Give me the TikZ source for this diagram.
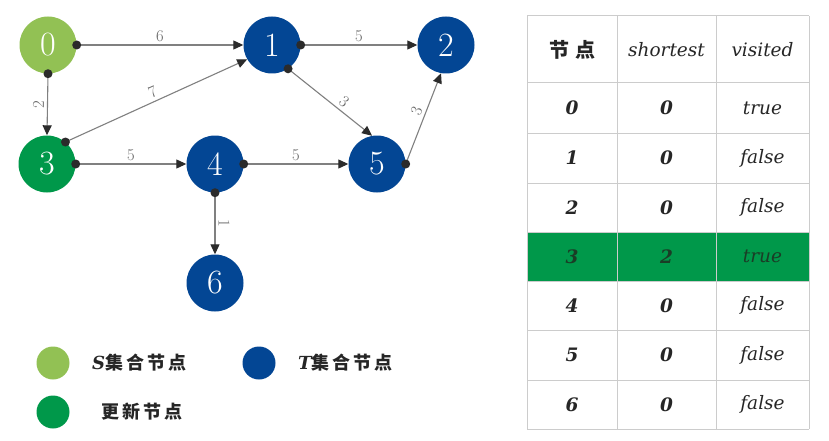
\documentclass[tikz,border=0pt]{standalone}
\usepackage{fontspec}
\newfontfamily\cjk{Noto Sans CJK SC}
\newfontfamily\tabf{DejaVu Serif}
\usetikzlibrary{arrows.meta}
\definecolor{sgreen}{HTML}{92C154}
\definecolor{ugreen}{HTML}{00984A}
\definecolor{tblue}{HTML}{034694}
\definecolor{edgec}{HTML}{808080}
\definecolor{dotc}{HTML}{2B2B2B}
\definecolor{gridc}{HTML}{CCCCCC}
\definecolor{txtc}{HTML}{262626}
\definecolor{gtxt}{HTML}{1A3D26}
\begin{document}
\begin{tikzpicture}[x=1pt,y=-1pt,
  vtx/.style={circle,minimum size=57pt,inner sep=0pt,text=white,font=\fontsize{34}{34}\selectfont},
  edge/.style={draw=edgec,line width=1.1pt,-{Triangle[length=10pt,width=9pt,color=dotc]}},
  wlab/.style={font=\fontsize{16.5}{16.5}\selectfont,text=black!60,sloped,above,inner sep=3pt},
  legdot/.style={circle,minimum size=33pt,inner sep=0pt},
  legtxt/.style={anchor=west,text=txtc,inner sep=0pt,font=\cjk\bfseries\fontsize{18}{18}\selectfont},
  cell/.style={text=txtc,inner sep=0pt,font=\tabf\itshape\fontsize{18.5}{18.5}\selectfont},
  cellb/.style={text=txtc,inner sep=0pt,font=\tabf\bfseries\itshape\fontsize{18.5}{18.5}\selectfont},
  grid/.style={draw=gridc,line width=1pt}
  ]
\useasboundingbox[fill=white] (0,0) rectangle (829,441);
% graph nodes
\node[vtx,fill=sgreen] (n0) at (48,45) {0};
\node[vtx,fill=tblue] (n1) at (272,45) {1};
\node[vtx,fill=tblue] (n2) at (446,45) {2};
\node[vtx,fill=ugreen] (n3) at (47,164) {3};
\node[vtx,fill=tblue] (n4) at (215,164) {4};
\node[vtx,fill=tblue] (n5) at (377,164) {5};
\node[vtx,fill=tblue] (n6) at (215,283) {6};
% edges
\draw[edge] (n0.east) -- node[wlab]{6} (n1.west);
\draw[edge] (n0.south) -- node[wlab]{2} (n3.north);
\draw[edge] (n1.east) -- node[wlab]{5} (n2.west);
\draw[edge] (n3.50) -- node[wlab]{7} (n1.210);
\draw[edge] (n1.-56) -- node[wlab,pos=0.6]{3} (n5.100);
\draw[edge] (n5.east) -- node[wlab,pos=0.55]{3} (n2.-100);
\draw[edge] (n3.east) -- node[wlab]{5} (n4.west);
\draw[edge] (n4.east) -- node[wlab]{5} (n5.west);
\draw[edge] (n4.south) -- node[wlab]{1} (n6.north);
\foreach \a in {n0.east,n0.south,n1.east,n3.50,n1.-56,n5.east,n3.east,n4.east,n4.south}
  \fill[dotc] (\a) circle (4.5pt);
% legend
\node[legdot,fill=sgreen] (ls) at (53,363) {};
\node[legtxt] (lst) at (92,363) {{\tabf\bfseries\itshape S}集\,合\,节\,点};
\node[legdot,fill=tblue] (lt) at (259,363) {};
\node[legtxt] (ltt) at (298,363) {{\tabf\bfseries\itshape T}集\,合\,节\,点};
\node[legdot,fill=ugreen] (lu) at (53,412) {};
\node[legtxt] (lut) at (101,412) {更\,新\,节\,点};
% table
\fill[ugreen] (527,232) rectangle (809,281);
\foreach \y in {16,83,133,183,232,281,330,380,429}
  \draw[grid] (527,\y) -- (809,\y);
\foreach \x in {527,617,716,809}
  \draw[grid] (\x,16) -- (\x,429);
\node[text=txtc,inner sep=0pt,font=\cjk\bfseries\fontsize{20}{20}\selectfont] (h1) at (572,49.5) {节\hspace{6pt}点};
\node[cell] (h2) at (666.5,49.5) {shortest};
\node[cell] (h3) at (762.5,49.5) {visited};
\foreach \r/\y/\d/\v in {0/108/0/true,1/158/0/false,2/207.5/0/false,4/305.5/0/false,5/355/0/false,6/404.5/0/false}{
  \node[cellb] (r\r a) at (572,\y) {\r};
  \node[cellb] (r\r b) at (666.5,\y) {\d};
  \node[cell] (r\r c) at (762.5,\y) {\v};
}
\node[cellb,text=gtxt] (r3a) at (572,256.5) {3};
\node[cellb,text=gtxt] (r3b) at (666.5,256.5) {2};
\node[cell,text=gtxt] (r3c) at (762.5,256.5) {true};
\end{tikzpicture}
\end{document}
